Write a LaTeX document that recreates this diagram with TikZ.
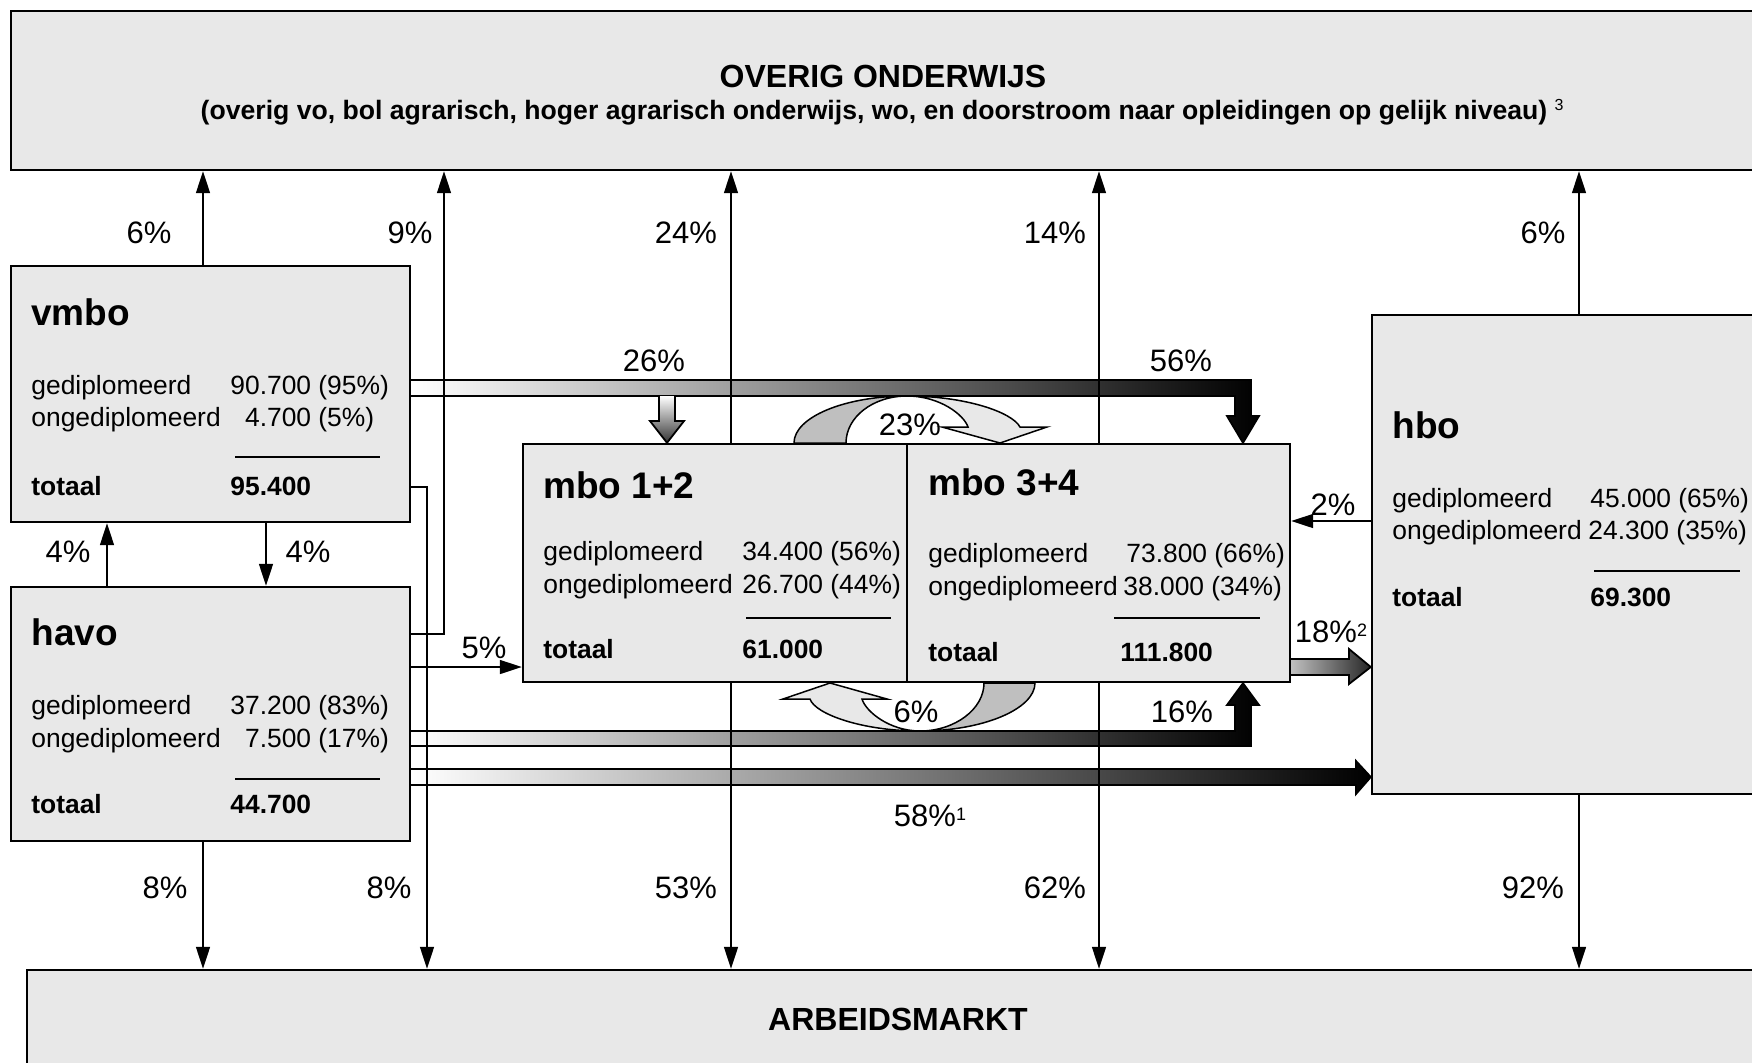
\documentclass[tikz,border=0pt]{standalone}
\usepackage{fontspec}
\setmainfont{Liberation Sans}
\usetikzlibrary{arrows.meta,positioning,fit}

\definecolor{boxgray}{RGB}{232,232,232}
\definecolor{backgray}{RGB}{191,191,191}

\tikzset{
  box/.style={draw, fill=boxgray, line width=1.2pt, inner sep=0pt},
  arr/.style={line width=0.75pt, -{Triangle[width=7pt,length=11pt]}},
  band/.style={draw, line width=0.9pt, left color=white, right color=black},
  rule/.style={line width=0.75pt},
  pct/.style={inner sep=0pt, font=\fontsize{15.5}{18}\selectfont},
  txt/.style={inner sep=0pt, anchor=west, font=\fontsize{13.2}{16}\selectfont},
  tot/.style={txt, font=\fontsize{13.2}{16}\selectfont\bfseries},
  ttl/.style={inner sep=0pt, anchor=west, font=\fontsize{18.5}{22}\selectfont\bfseries},
}

\begin{document}
\begin{tikzpicture}[x=0.5pt, y=-0.5pt]
\useasboundingbox (0,0) rectangle (1752,1062);
\clip (0,0) rectangle (1752,1062);

% columns of the vertical flows
\coordinate (cA) at (107,0);
\coordinate (cB) at (266,0);
\coordinate (c1) at (203,0);
\coordinate (c2) at (444,0);
\coordinate (c3) at (427,0);
\coordinate (c4) at (731,0);
\coordinate (c5) at (1099,0);
\coordinate (c6) at (1579,0);
\coordinate (cM) at (667,0);
\coordinate (cR) at (1243,0);

% boxes
\node[box, fit={(11,11) (1780,170)}] (top) {};
\node[box, fit={(27,970) (1780,1090)}] (arbeid) {};
\node[box, fit={(11,266) (410,522)}] (vmbo) {};
\node[box, fit={(11,587) (410,841)}] (havo) {};
\node[box, fit={(523,444) (907,682)}] (mbo12) {};
\node[box, fit={(907,444) (1290,682)}] (mbo34) {};
\node[box, fit={(1372,315) (1780,794)}] (hbo) {};

\node[font=\fontsize{16}{19}\selectfont\bfseries] (top title) at (883,76) {OVERIG ONDERWIJS};
\node[font=\fontsize{13.3}{16}\selectfont\bfseries] (top sub) at (874,112)
  {(overig vo, bol agrarisch, hoger agrarisch onderwijs, wo, en doorstroom naar opleidingen op gelijk niveau)\rlap{\mdseries\ \raisebox{4.5pt}{\fontsize{8}{8}\selectfont 3}}};
\node[font=\fontsize{16}{19}\selectfont\bfseries] (arbeid title) at (898,1019) {ARBEIDSMARKT};

% vmbo
\node[ttl] (vmbo title) at (31,312) {vmbo};
\node[txt] (vmbo d) at (31,388) {gediplomeerd};
\node[txt] (vmbo u) at (31,420) {ongediplomeerd};
\node[tot] (vmbo t) at (31,486) {totaal};
\node[txt] (vmbo dn) at (230,388) {90.700 (95\%)};
\node[txt] (vmbo un) at (230,420) {\phantom{9}4.700 (5\%)};
\node[tot] (vmbo tn) at (230,486) {95.400};
\draw[rule] (235,457) -- (380,457);

% havo
\node[ttl] (havo title) at (31,632) {havo};
\node[txt] (havo d) at (31,708) {gediplomeerd};
\node[txt] (havo u) at (31,741) {ongediplomeerd};
\node[tot] (havo t) at (31,804) {totaal};
\node[txt] (havo dn) at (230,708) {37.200 (83\%)};
\node[txt] (havo un) at (230,741) {\phantom{3}7.500 (17\%)};
\node[tot] (havo tn) at (230,804) {44.700};
\draw[rule] (235,779) -- (380,779);

% mbo 1+2
\node[ttl] (mbo12 title) at (543,485) {mbo 1+2};
\node[txt] (mbo12 d) at (543,554) {gediplomeerd};
\node[txt] (mbo12 u) at (543,587) {ongediplomeerd};
\node[tot] (mbo12 t) at (543,649) {totaal};
\node[txt] (mbo12 dn) at (742,554) {34.400 (56\%)};
\node[txt] (mbo12 un) at (742,587) {26.700 (44\%)};
\node[tot] (mbo12 tn) at (742,649) {61.000};
\draw[rule] (746,618) -- (891,618);

% mbo 3+4
\node[ttl] (mbo34 title) at (928,482) {mbo 3+4};
\node[txt] (mbo34 d) at (928,556) {gediplomeerd};
\node[txt] (mbo34 u) at (928,589) {ongediplomeerd};
\node[tot] (mbo34 t) at (928,652) {totaal};
\node[txt] (mbo34 dn) at (1126,556) {73.800 (66\%)};
\node[txt] (mbo34 un) at (1123,589) {38.000 (34\%)};
\node[tot] (mbo34 tn) at (1120,652) {111.800};
\draw[rule] (1114,618) -- (1260,618);

% hbo
\node[ttl] (hbo title) at (1392,425) {hbo};
\node[txt] (hbo d) at (1392,501) {gediplomeerd};
\node[txt] (hbo u) at (1392,533) {ongediplomeerd};
\node[tot] (hbo t) at (1392,597) {totaal};
\node[txt] (hbo dn) at (1590,501) {45.000 (65\%)};
\node[txt] (hbo un) at (1588,533) {24.300 (35\%)};
\node[tot] (hbo tn) at (1590,597) {69.300};
\draw[rule] (1594,571) -- (1740,571);

% fat shaded flows
\draw[band] (vmbo.east |- 0,380) -- (1251,380) -- (1251,416) -- (1259,416) -- (mbo34.north -| cR)
  -- (1227,416) -- (1235,416) -- (1235,396) -- (vmbo.east |- 0,396);
\draw[line width=0.9pt, top color=white, bottom color=black!80] (659,396) -- (659,421) -- (650,421)
  -- (mbo12.north -| cM) -- (684,421) -- (675,421) -- (675,396);
\draw[band] (havo.east |- 0,731) -- (1235,731) -- (1235,705) -- (1227,705) -- (mbo34.south -| cR)
  -- (1259,705) -- (1251,705) -- (1251,746) -- (havo.east |- 0,746);
\draw[band] (havo.east |- 0,769) -- (1356,769) -- (1356,761) -- (hbo.west |- 0,777)
  -- (1356,794) -- (1356,785) -- (havo.east |- 0,785);
\draw[band, left color=black!25, right color=black!85] (mbo34.east |- 0,659) -- (1349,659) -- (1349,649)
  -- (hbo.west |- 0,667) -- (1349,684) -- (1349,675) -- (mbo34.east |- 0,675);

% curved flows between mbo levels
\filldraw[fill=backgray, line width=0.75pt] (794,443) .. controls (794,417) and (845,396) .. (907,396)
  .. controls (873,396) and (846,417) .. (846,443) -- cycle;
\filldraw[fill=boxgray, line width=0.75pt] (907,396) .. controls (965,396) and (1012,412) .. (1020,427)
  -- (1047,427) -- (1000,443) -- (942,427) -- (968,427) .. controls (964,415) and (940,396) .. (907,396) -- cycle;
\filldraw[fill=backgray, line width=0.75pt] (1035,683) .. controls (1035,709) and (983,731) .. (920,731)
  .. controls (955,731) and (984,709) .. (984,683) -- cycle;
\filldraw[fill=boxgray, line width=0.75pt] (920,731) .. controls (862,731) and (815,714) .. (810,699)
  -- (783,699) -- (830,683) -- (887,699) -- (862,699) .. controls (866,712) and (890,731) .. (920,731) -- cycle;

% thin flows
\draw[arr] (vmbo.north -| c1) -- (top.south -| c1);
\draw[arr] (havo.east |- 0,634) -| (top.south -| c2);
\draw[arr] (mbo12.north -| c4) -- (top.south -| c4);
\draw[arr] (mbo34.north -| c5) -- (top.south -| c5);
\draw[arr] (hbo.north -| c6) -- (top.south -| c6);
\draw[arr] (havo.north -| cA) -- (vmbo.south -| cA);
\draw[arr] (vmbo.south -| cB) -- (havo.north -| cB);
\draw[arr] (vmbo.east |- 0,487) -| (arbeid.north -| c3);
\draw[arr] (havo.south -| c1) -- (arbeid.north -| c1);
\draw[arr] (mbo12.south -| c4) -- (arbeid.north -| c4);
\draw[arr] (mbo34.south -| c5) -- (arbeid.north -| c5);
\draw[arr] (hbo.south -| c6) -- (arbeid.north -| c6);
\draw[arr] (havo.east |- 0,667) -- (mbo12.west |- 0,667);
\draw[arr] (hbo.west |- 0,521) -- (mbo34.east |- 0,521);

% percentages
\node[pct] (p1) at (149,233) {6\%};
\node[pct] (p2) at (410,233) {9\%};
\node[pct] (p3) at (686,233) {24\%};
\node[pct] (p4) at (1055,233) {14\%};
\node[pct] (p5) at (1543,233) {6\%};
\node[pct] (p6) at (165,888) {8\%};
\node[pct] (p7) at (389,888) {8\%};
\node[pct] (p8) at (686,888) {53\%};
\node[pct] (p9) at (1055,888) {62\%};
\node[pct] (p10) at (1533,888) {92\%};
\node[pct] (p11) at (68,552) {4\%};
\node[pct] (p12) at (308,552) {4\%};
\node[pct] (p13) at (484,648) {5\%};
\node[pct] (p14) at (654,361) {26\%};
\node[pct] (p15) at (1181,361) {56\%};
\node[pct] (p16) at (910,425) {23\%};
\node[pct] (p17) at (916,712) {6\%};
\node[pct] (p18) at (1182,712) {16\%};
\node[pct] (p19) at (1333,505) {2\%};
\node[pct] (p20) at (1326,632) {18\%\rlap{\raisebox{3pt}{\fontsize{9}{9}\selectfont 2}}};
\node[pct] (p21) at (925,816) {58\%\rlap{\raisebox{3pt}{\fontsize{9}{9}\selectfont 1}}};
\end{tikzpicture}
\end{document}
